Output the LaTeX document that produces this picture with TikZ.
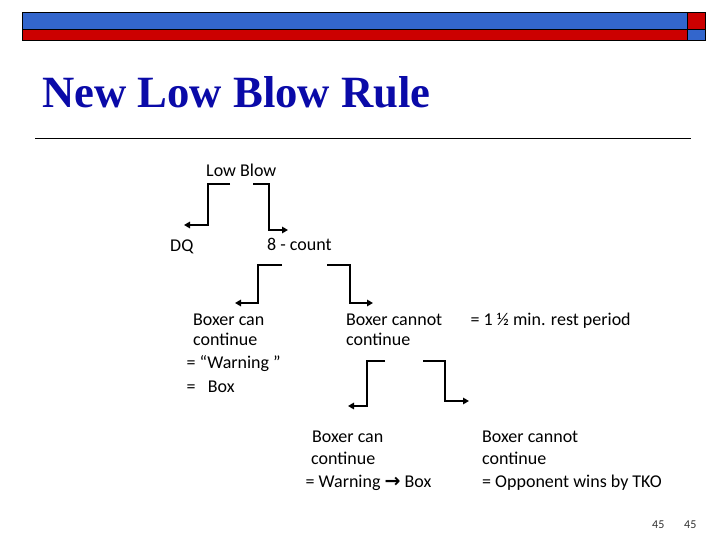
\documentclass[tikz,border=0pt]{standalone}
\usepackage{fontspec}
\setmainfont{Carlito}
\newfontfamily\titlefont{Liberation Serif}
\newfontfamily\symfont{DejaVu Sans}
\usetikzlibrary{arrows.meta}
\definecolor{barblue}{HTML}{3366CC}
\definecolor{barred}{HTML}{CC0000}
\definecolor{titleblue}{HTML}{0A0AA8}
\tikzset{
  bar/.style={draw=black, line width=0.9pt},
  lbl/.style={anchor=base west, inner sep=0pt, font=\fontsize{18}{20}\selectfont},
  pg/.style={anchor=base west, inner sep=0pt, font=\fontsize{12}{13}\selectfont, text=black!80},
  conn/.style={line width=2.4pt, -{Triangle[length=6pt,width=6.5pt]}}
}
\begin{document}
\begin{tikzpicture}[x=1pt,y=-1pt]
\useasboundingbox (0,0) rectangle (720,540);
% header bars
\filldraw[bar, fill=barblue] (22.5,12.5) rectangle (687.5,29.5);
\filldraw[bar, fill=barred] (22.5,29.5) rectangle (687.5,40.5);
\filldraw[bar, fill=barred] (687.5,12.5) rectangle (705,29.5);
\filldraw[bar, fill=barblue] (687.5,29.5) rectangle (705,40.5);
% title
\node[anchor=base west, inner sep=0pt, text=titleblue, font=\titlefont\bfseries\fontsize{44.7}{48}\selectfont] (title) at (42,107.5) {New Low Blow Rule};
\draw[line width=1pt] (35,138.3) -- (690.5,138.3);
% level 0
\node[lbl] (lowblow) at (206,176.5) {Low Blow};
\node[lbl] (dq) at (170,251.5) {DQ};
\node[lbl] (count) at (267,250.5) {8 - count};
% level 1 texts
\node[lbl] (canA1) at (193,325) {Boxer can};
\node[lbl] (canA2) at (193,345.5) {continue};
\node[lbl] (canA3) at (186.5,368.5) {= “Warning ”};
\node[lbl] (canA4) at (186.5,392.5) {=\ \ \ Box};
\node[lbl] (notA1) at (346,325) {Boxer cannot};
\node[lbl] (notA2) at (346,345.5) {continue};
\node[lbl] (rest) at (470.5,325) {= 1 ½ min. rest period};
% level 2 texts
\node[lbl] (canB1) at (312,442) {Boxer can};
\node[lbl] (canB2) at (311,464) {continue};
\node[lbl] (canB3) at (305.5,487.5) {= Warning {\symfont\bfseries\fontsize{19}{20}\selectfont →} Box};
\node[lbl] (notB1) at (482,442) {Boxer cannot};
\node[lbl] (notB2) at (482,464) {continue};
\node[lbl] (notB3) at (482,487.5) {= Opponent wins by TKO};
% page numbers
\node[pg] (pn1) at (652,528) {45};
\node[pg] (pn2) at (684,528) {45};
% connector coordinates
\coordinate (lbL) at (230,184);
\coordinate (lbR) at (253,184);
\coordinate (dqTip) at (184,225);
\coordinate (ctTip) at (288,230);
\coordinate (ctL) at (282,265);
\coordinate (ctR) at (327,265);
\coordinate (canATip) at (235,303);
\coordinate (notATip) at (373,303);
\coordinate (naL) at (385,361);
\coordinate (naR) at (423,361);
\coordinate (canBTip) at (348,406);
\coordinate (notBTip) at (469,401);
% connectors
\draw[conn] (lbL) -- (208,184) |- (dqTip);
\draw[conn] (lbR) -- (269,184) |- (ctTip);
\draw[conn] (ctL) -- (258,265) |- (canATip);
\draw[conn] (ctR) -- (350,265) |- (notATip);
\draw[conn] (naL) -- (367,361) |- (canBTip);
\draw[conn] (naR) -- (445,361) |- (notBTip);
\end{tikzpicture}
\end{document}
